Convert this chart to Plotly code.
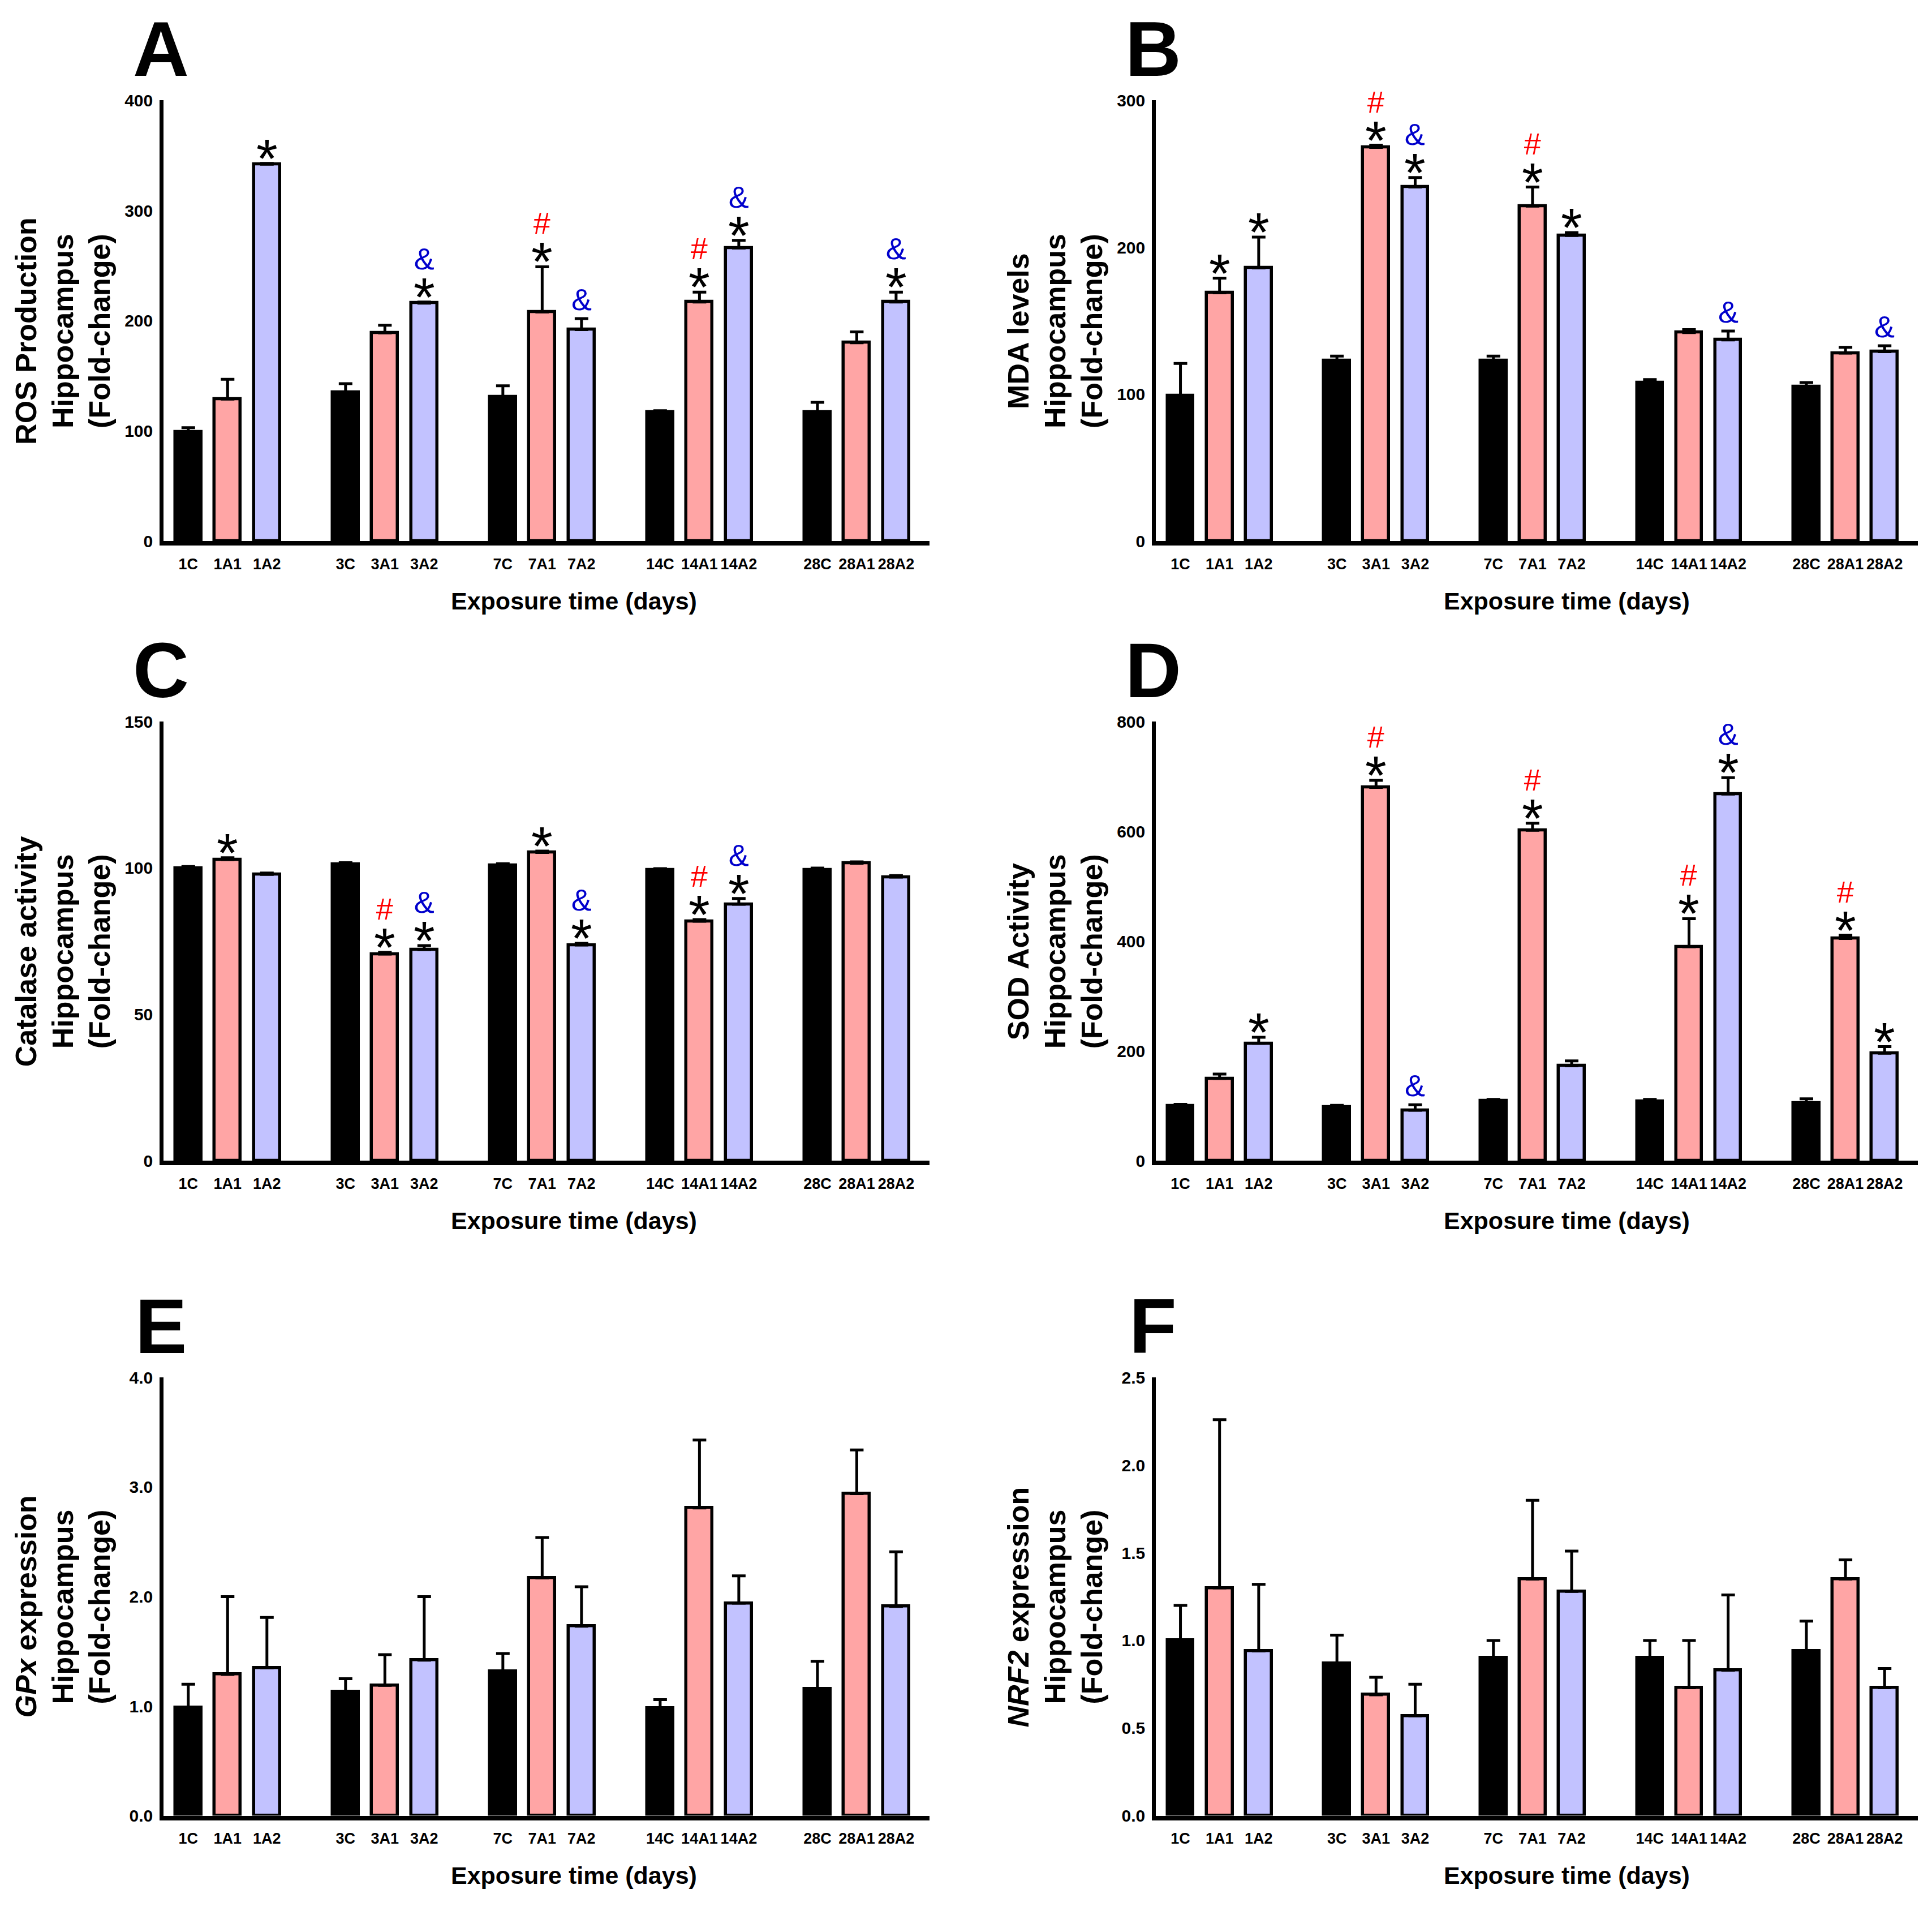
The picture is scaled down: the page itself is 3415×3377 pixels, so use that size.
import plotly.graph_objects as go

# ---- data ----
labels = ["1C", "1A1", "1A2", "3C", "3A1", "3A2", "7C", "7A1", "7A2",
          "14C", "14A1", "14A2", "28C", "28A1", "28A2"]

ros_mean = [99, 129, 342, 135, 189, 216, 131, 208, 192, 117, 217, 266, 117, 180, 217]
ros_err = [4, 18, 0.8, 8, 7, 1, 10, 41, 10, 1.5, 9, 7, 9, 10, 9]
ros_sig = ["", "", "*", "", "", "*&", "", "*#", "&", "", "*#", "*&", "", "", "*&"]

mda_mean = [99, 169, 186, 123, 268, 241, 123, 228, 208, 108, 142, 137, 105, 128, 129]
mda_err = [22, 10, 21, 3, 1.5, 6.5, 3, 13, 2, 2, 2, 6, 3, 4, 4]
mda_sig = ["", "*", "*", "", "*#", "*&", "", "*#", "*", "", "", "&", "", "", "&"]

cat_mean = [99.9, 102.9, 97.8, 101.2, 70.6, 72.1, 101.0, 105.3, 73.7,
            99.3, 81.8, 87.6, 99.3, 101.6, 96.9]
cat_err = [0.6, 0.6, 0.5, 0.6, 0.6, 1.4, 0.5, 0.5, 0.6, 0.5, 0.6, 2.0, 0.7, 0.5, 0.5]
cat_sig = ["", "*", "", "", "*#", "*&", "", "*", "*&", "", "*#", "*&", "", "", ""]

sod_mean = [100, 150, 214, 98, 680, 92, 109, 602, 173, 108, 390, 668, 105, 405, 196]
sod_err = [3, 8, 11, 3, 13, 10, 3, 13, 9, 4, 51, 30, 8, 6, 12]
sod_sig = ["", "", "*", "", "*#", "&", "", "*#", "", "", "*#", "*&", "", "*#", "*"]

gpx_mean = [0.99, 1.29, 1.35, 1.13, 1.19, 1.42, 1.32, 2.17, 1.73,
            0.98, 2.81, 1.94, 1.16, 2.94, 1.91]
gpx_err = [0.21, 0.71, 0.46, 0.12, 0.28, 0.58, 0.16, 0.37, 0.36,
           0.08, 0.62, 0.25, 0.25, 0.40, 0.50]

nrf_mean = [1.0, 1.30, 0.94, 0.87, 0.69, 0.57, 0.90, 1.35, 1.28,
            0.90, 0.73, 0.83, 0.94, 1.35, 0.73]
nrf_err = [0.20, 0.96, 0.38, 0.16, 0.10, 0.18, 0.10, 0.45, 0.23,
           0.10, 0.27, 0.43, 0.17, 0.11, 0.11]

no_sig = [""] * 15

group_colors = ["#000000", "#FFA5A5", "#C2C2FF"]
sym_colors = {"#": "#FF0000", "&": "#0000CC"}

panels = [
    ("A", ["ROS Production", "Hippocampus", "(Fold-change)"], ros_mean, ros_err, ros_sig, [0, 100, 200, 300, 400], ""),
    ("B", ["MDA levels", "Hippocampus", "(Fold-change)"], mda_mean, mda_err, mda_sig, [0, 100, 200, 300], ""),
    ("C", ["Catalase activity", "Hippocampus", "(Fold-change)"], cat_mean, cat_err, cat_sig, [0, 50, 100, 150], ""),
    ("D", ["SOD Activity", "Hippocampus", "(Fold-change)"], sod_mean, sod_err, sod_sig, [0, 200, 400, 600, 800], ""),
    ("E", ["<i>GPx</i> expression", "Hippocampus", "(Fold-change)"], gpx_mean, gpx_err, no_sig, [0, 1, 2, 3, 4], ".1f"),
    ("F", ["<i>NRF2</i> expression", "Hippocampus", "(Fold-change)"], nrf_mean, nrf_err, no_sig, [0, 0.5, 1, 1.5, 2, 2.5], ".1f"),
]

# ---- layout geometry (pixels of the 3415 x 3377 page) ----
W, H = 3415, 3377
cols = [(289, 1643), (2043, 3390)]
rows = [(162, 949), (1271, 2055), (2442, 3224)]

FONT = "Liberation Sans, Arial, sans-serif"
STAR_SIZE, SYM_SIZE = 97, 54

# bar positions: 3 bars per day, one empty slot between days
xpos = [g * 4 + k for g in range(5) for k in range(3)]
colors = [group_colors[k] for g in range(5) for k in range(3)]

fig = go.Figure()
annotations = []

for i, (letter, ytitle, mean, err, sig, yticks, fmt) in enumerate(panels):
    r, c = divmod(i, 2)
    xa = "x" if i == 0 else f"x{i + 1}"
    ya = "y" if i == 0 else f"y{i + 1}"
    x0, x1 = cols[c]
    top, zero = rows[r]

    fig.add_trace(go.Bar(
        x=xpos, y=mean, width=0.66,
        marker=dict(color=colors, line=dict(color="black", width=5.5)),
        error_y=dict(type="data", array=err, arrayminus=[0] * len(err),
                     symmetric=False, color="black", thickness=5, width=12),
        xaxis=xa, yaxis=ya, showlegend=False,
    ))

    ax_key = "xaxis" if i == 0 else f"xaxis{i + 1}"
    ay_key = "yaxis" if i == 0 else f"yaxis{i + 1}"
    fig.update_layout(**{
        ax_key: dict(domain=[x0 / W, x1 / W], range=[-0.63, 18.85],
                     tickvals=xpos, ticktext=labels, tickangle=0,
                     showline=True, linecolor="black", linewidth=8.4,
                     ticks="", showgrid=False, zeroline=False,
                     ticklabelstandoff=9,
                     tickfont=dict(family=FONT, size=27, color="black", weight="bold"),
                     anchor=ya, fixedrange=True),
        ay_key: dict(domain=[1 - zero / H, 1 - top / H], range=[0, yticks[-1]],
                     tickvals=yticks, tickformat=fmt,
                     showline=True, linecolor="black", linewidth=6.5,
                     ticks="", showgrid=False, zeroline=False,
                     ticklabelstandoff=6,
                     tickfont=dict(family=FONT, size=30, color="black", weight="bold"),
                     anchor=xa, fixedrange=True),
    })

    # panel letter
    annotations.append(dict(text=letter, xref="paper", yref="paper",
                            x=(x0 - 5) / W, y=1 - (top - 92) / H,
                            xanchor="center", yanchor="middle", showarrow=False,
                            font=dict(family=FONT, size=137, color="black", weight="bold")))
    # y title, one annotation per line
    for k, line in enumerate(ytitle):
        annotations.append(dict(text=line, xref="paper", yref="paper",
                                x=x0 / W, y=1 - (top + zero) / 2 / H,
                                xshift=-243 + 65 * k, yshift=-18,
                                textangle=-90, xanchor="center", yanchor="middle",
                                showarrow=False,
                                font=dict(family=FONT, size=52, color="black", weight="bold")))
    # x title
    annotations.append(dict(text="Exposure time (days)", xref="paper", yref="paper",
                            x=(x0 + 726) / W, y=1 - (zero + 107) / H,
                            xanchor="center", yanchor="middle", showarrow=False,
                            font=dict(family=FONT, size=43, color="black", weight="bold")))

    # significance marks: '*' on top of the error bar, '#' / '&' above it
    for xp, m, e, s in zip(xpos, mean, err, sig):
        if not s:
            continue
        syms = [ch for ch in s if ch in sym_colors]
        if "*" in s and syms:
            sym = syms[0]
            text = (f"<span style='font-size:{SYM_SIZE}px;color:{sym_colors[sym]}'>{sym}</span>"
                    f"<br><span style='font-size:{STAR_SIZE}px'>*</span>")
            font = dict(family=FONT, size=64, color="black")
            yshift = -48
        elif "*" in s:
            text = "*"
            font = dict(family=FONT, size=STAR_SIZE, color="black")
            yshift = -48
        else:
            sym = syms[0]
            text = sym
            font = dict(family=FONT, size=SYM_SIZE, color=sym_colors[sym])
            yshift = 2
        annotations.append(dict(text=text, xref=xa, yref=ya, x=xp, y=m + e,
                                xanchor="center", yanchor="bottom", yshift=yshift,
                                showarrow=False, font=font))

fig.update_layout(width=W, height=H, margin=dict(l=0, r=0, t=0, b=0),
                  paper_bgcolor="white", plot_bgcolor="white",
                  showlegend=False, annotations=annotations, bargap=0)

fig.write_html("out.html", config={"displayModeBar": False},
               post_script="document.body.style.margin = '0px';")
